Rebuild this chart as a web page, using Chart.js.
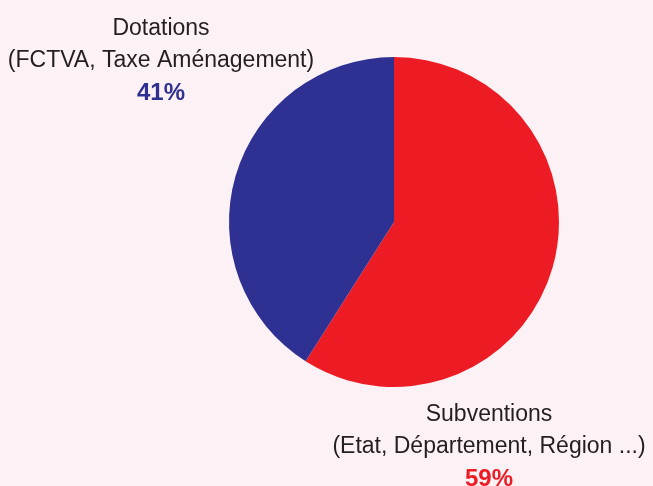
<!DOCTYPE html>
<html>
<head>
<meta charset="utf-8">
<script src="https://cdn.jsdelivr.net/npm/chart.js@4/dist/chart.umd.min.js"></script>
<style>
  html, body { margin: 0; padding: 0; background: #fcf1f5; }
  #wrap { width: 653px; height: 486px; }
</style>
</head>
<body>
<div id="wrap"><canvas id="pieChart"></canvas></div>
<script>
"use strict";

// data
var labels = ["Subventions", "Dotations"];
var sousTitres = ["(Etat, Département, Région ...)", "(FCTVA, Taxe Aménagement)"];
var valeurs = [59, 41];
var couleurs = ["#ed1c24", "#2e3192"];

// positions des étiquettes (centre du texte, ligne de base de la 1ere ligne)
var posEtiquettes = [
  { x: 489, y: 421 },
  { x: 161, y: 35 }
];

var etiquettesPlugin = {
  id: "etiquettes",
  afterDraw: function (chart) {
    var ctx = chart.ctx;
    ctx.save();
    ctx.textAlign = "center";
    ctx.textBaseline = "alphabetic";
    labels.forEach(function (lab, i) {
      var p = posEtiquettes[i];
      ctx.fillStyle = "#231f20";
      ctx.font = "23px 'Liberation Sans'";
      ctx.fillText(lab, p.x, p.y);
      ctx.fillText(sousTitres[i], p.x, p.y + 32);
      ctx.fillStyle = couleurs[i];
      ctx.font = "bold 24px 'Liberation Sans'";
      ctx.fillText(valeurs[i] + "%", p.x, p.y + 65);
    });
    ctx.restore();
  }
};

var pieChart = new Chart(document.getElementById("pieChart"), {
  type: "pie",
  data: {
    labels: labels,
    datasets: [{
      data: valeurs,
      backgroundColor: couleurs,
      borderWidth: 0
    }]
  },
  options: {
    responsive: true,
    maintainAspectRatio: false,
    animation: false,
    layout: { padding: { left: 229, right: 94, top: 57, bottom: 99 } },
    plugins: {
      legend: { display: false },
      tooltip: { enabled: false }
    }
  },
  plugins: [etiquettesPlugin]
});
</script>
</body>
</html>
